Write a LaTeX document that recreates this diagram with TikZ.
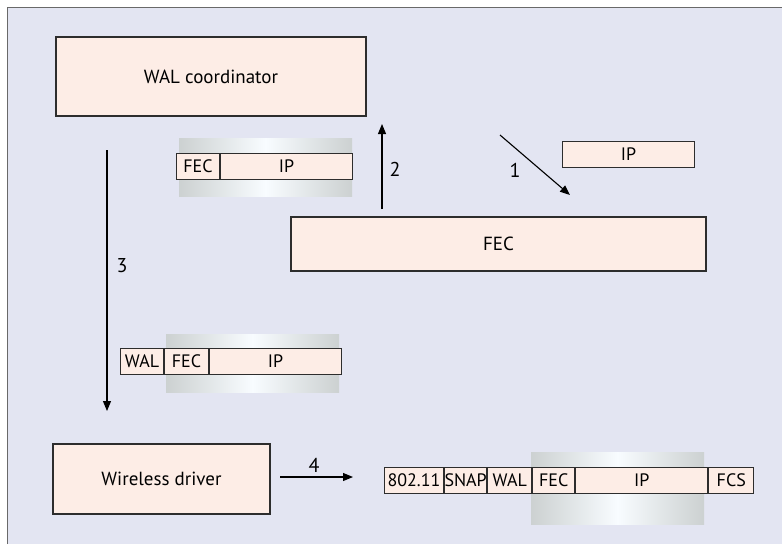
\documentclass[tikz,border=0pt]{standalone}
\usepackage{fontspec}
\setmainfont{PT Sans}
\usetikzlibrary{arrows.meta}
\definecolor{panel}{RGB}{227,229,242}
\definecolor{boxfill}{RGB}{253,237,230}
\definecolor{edge}{RGB}{45,45,45}
\definecolor{frameline}{RGB}{105,105,105}
\definecolor{shadeedge}{RGB}{204,209,209}
\definecolor{shademid}{RGB}{248,252,255}

\begin{document}
\begin{tikzpicture}[x=1pt,y=-1pt,
  block/.style={draw=edge, line width=1.2pt, fill=boxfill, inner sep=0pt,
    font=\fontsize{19}{21}\selectfont},
  cell/.style={draw=edge, line width=1pt, fill=boxfill, inner sep=0pt,
    minimum height=26pt, anchor=north west, font=\fontsize{18}{20}\selectfont},
  flow/.style={line width=1.1pt, -{Triangle[length=10pt,width=8pt]}},
  steplabel/.style={font=\fontsize{20}{22}\selectfont},
  glow/.style={left color=shadeedge, right color=shadeedge, middle color=shademid}]
\useasboundingbox (0,0) rectangle (782,544);
\fill[white] (0,0) rectangle (782,544);
% panel with its top and left rule
\fill[panel] (7.5,7.5) rectangle (782,544);
\draw[frameline, line width=1.5pt] (7.5,544) -- (7.5,7.5) -- (782,7.5);

% processing blocks
\node[block, minimum width=310pt, minimum height=79pt] (coord) at (211,76.5) {WAL coordinator};
\node[block, minimum width=415pt, minimum height=54pt] (fec) at (498.5,244) {FEC};
\node[block, minimum width=217pt, minimum height=70pt] (drv) at (161.5,479) {Wireless driver};

% plain IP packet
\node[cell, minimum width=132pt] (ipin) at (562,141) {IP};

% FEC | IP packet
\shade[glow] (179,138) rectangle (352,196);
\node[cell, minimum width=43pt] (p1fec) at (176,153) {FEC};
\node[cell, minimum width=132pt] (p1ip) at (p1fec.north east) {IP};

% WAL | FEC | IP packet
\shade[glow] (166,334) rectangle (339,392);
\node[cell, minimum width=43pt] (p2wal) at (120,348) {WAL};
\node[cell, minimum width=44pt] (p2fec) at (p2wal.north east) {FEC};
\node[cell, minimum width=132pt] (p2ip) at (p2fec.north east) {IP};

% 802.11 frame
\shade[glow] (531,452) rectangle (704,524);
\node[cell, minimum width=59pt] (p3mac) at (384,467) {802.11};
\node[cell, minimum width=42pt] (p3snap) at (p3mac.north east) {SNAP};
\node[cell, minimum width=44pt] (p3wal) at (p3snap.north east) {WAL};
\node[cell, minimum width=42pt] (p3fec) at (p3wal.north east) {FEC};
\node[cell, minimum width=132pt] (p3ip) at (p3fec.north east) {IP};
\node[cell, minimum width=45pt] (p3fcs) at (p3ip.north east) {FCS};

% numbered steps
\coordinate (s1a) at (500,135);
\coordinate (s1b) at (570,195);
\coordinate (s2a) at (382,209);
\coordinate (s2b) at (382,124);
\coordinate (s3a) at (107,150);
\coordinate (s3b) at (107,411);
\coordinate (s4a) at (280,477);
\coordinate (s4b) at (353,477);
\draw[flow] (s1a) -- (s1b);
\draw[flow] (s2a) -- (s2b);
\draw[flow] (s3a) -- (s3b);
\draw[flow] (s4a) -- (s4b);
\node[steplabel] (n1) at (515,170) {1};
\node[steplabel] (n2) at (395,169) {2};
\node[steplabel] (n3) at (122,266) {3};
\node[steplabel] (n4) at (314,465) {4};
\end{tikzpicture}
\end{document}
